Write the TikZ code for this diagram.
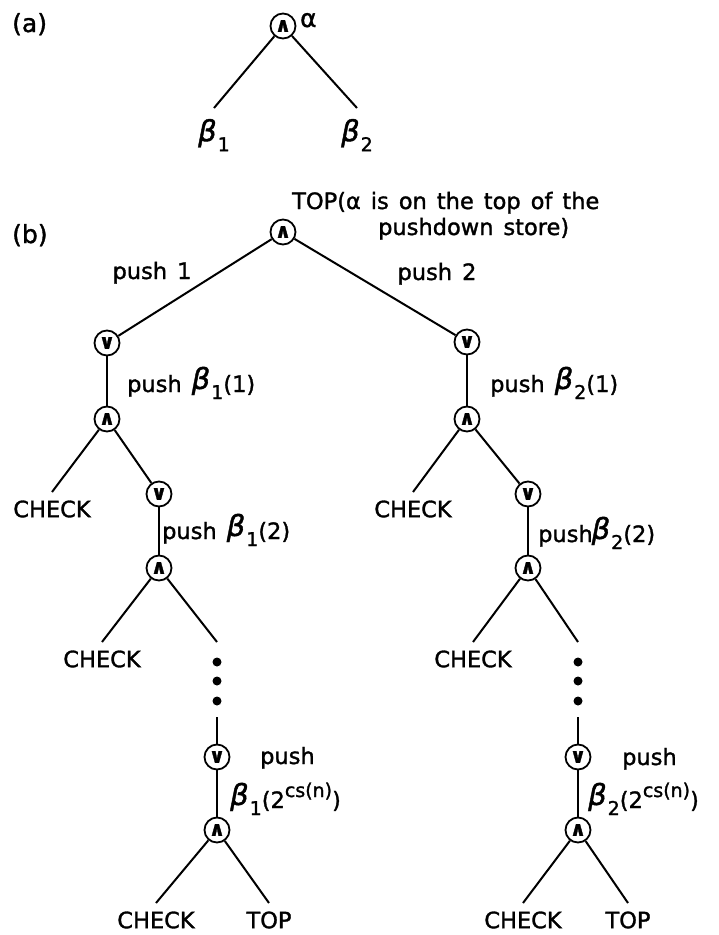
\documentclass[tikz,border=0pt]{standalone}
\usepackage{fontspec}
\setmainfont{DejaVu Sans}[ItalicFont={DejaVu Sans Oblique},WordSpace=1.4,FakeBold=1.4]
\newcommand{\bet}[1]{\raisebox{3pt}{\fontsize{29}{29}\selectfont\itshape β}\kern1pt\raisebox{-7pt}{\fontsize{19}{19}\selectfont #1}}
\newcommand{\supr}[1]{\raisebox{11pt}{\fontsize{19}{19}\selectfont #1}}
\newcommand{\andsym}{{\bfseries ∧}}
\newcommand{\orsym}{{\bfseries ∨}}
\begin{document}
\begin{tikzpicture}[x=1pt,y=-1pt,
  every node/.style={font=\fontsize{22.5}{26}\selectfont},
  gate/.style={circle,draw,line width=1.8pt,minimum size=25pt,inner sep=0pt,
    font=\fontsize{20}{20}\selectfont},
  edge/.style={line width=2pt},
  lbl/.style={anchor=base west,inner sep=0pt},
  tag/.style={anchor=base west,inner sep=0pt,font=\fontsize{25}{28}\selectfont},
  leaf/.style={anchor=north,inner sep=0pt,outer xsep=0pt,outer ysep=8.5pt},
  bleaf/.style={anchor=north,inner sep=0pt,outer xsep=0pt,outer ysep=11pt},
  dot/.style={circle,fill,inner sep=0pt,minimum size=9pt}]
\fill[white] (0,0) rectangle (719,935);
\useasboundingbox (0,0) rectangle (719,935);

% ---- part (a): a single AND node over beta_1 and beta_2
\node[tag] (la) at (12,32) {(a)};
\node[gate] (ra) at (283,26) {\andsym};
\node[lbl,font=\fontsize{25}{28}\selectfont] (alpha) at (300,27) {α};
\node[bleaf] (b1a) at (214,108) {\bet{1}};
\node[bleaf] (b2a) at (357,108) {\bet{2}};
\draw[edge] (ra) -- (b1a.north);
\draw[edge] (ra) -- (b2a.north);

% ---- part (b): the expanded tree
\node[tag] (lb) at (12,243) {(b)};
\node[gate] (R) at (283,232) {\andsym};
\node[lbl] (top1) at (292,209) {TOP(α is on the top of the};
\node[lbl] (top2) at (378,235) {pushdown store)};
\node[anchor=base,inner sep=0pt] (p1) at (152,279) {push 1};
\node[anchor=base,inner sep=0pt] (p2) at (437,280) {push 2};

% left branch
\node[gate] (L1v) at (107,343) {\orsym};
\node[gate] (L1a) at (107,419) {\andsym};
\node[gate] (L2v) at (159,494) {\orsym};
\node[gate] (L2a) at (159,568) {\andsym};
\node[gate] (L3v) at (217,757) {\orsym};
\node[gate] (L3a) at (217,830) {\andsym};
\node[lbl] (pl1) at (127,392) {push \bet{1}(1)};
\node[lbl] (pl2) at (162,539) {push \bet{1}(2)};
\node[lbl] (pl3) at (260,764) {push};
\node[lbl] (pl4) at (230,808) {\bet{1}(2\supr{cs(n)})};
\node[leaf] (ca1) at (52,492) {CHECK};
\node[leaf] (ca2) at (102,642) {CHECK};
\node[leaf] (ca3) at (156,903) {CHECK};
\node[leaf] (ta3) at (269,903) {TOP};
\coordinate (ea) at (217,642);
\coordinate (sa) at (217,717);
\node[dot] (da1) at (217,662) {};
\node[dot] (da2) at (217,681) {};
\node[dot] (da3) at (217,701) {};

% right branch
\node[gate] (R1v) at (467,342) {\orsym};
\node[gate] (R1a) at (467,419) {\andsym};
\node[gate] (R2v) at (528,494) {\orsym};
\node[gate] (R2a) at (528,568) {\andsym};
\node[gate] (R3v) at (578,757) {\orsym};
\node[gate] (R3a) at (578,830) {\andsym};
\node[lbl] (pr1) at (490,392) {push \bet{2}(1)};
\node[lbl] (pr2) at (538,542) {push\kern-1pt\bet{2}(2)};
\node[lbl] (pr3) at (622,765) {push};
\node[lbl] (pr4) at (588,808) {\bet{2}(2\supr{cs(n)})};
\node[leaf] (cb1) at (413,492) {CHECK};
\node[leaf] (cb2) at (473,642) {CHECK};
\node[leaf] (cb3) at (523,903) {CHECK};
\node[leaf] (tb3) at (628,903) {TOP};
\coordinate (eb) at (578,642);
\coordinate (sb) at (578,717);
\node[dot] (db1) at (578,662) {};
\node[dot] (db2) at (578,681) {};
\node[dot] (db3) at (578,701) {};

% connectors
\draw[edge] (R) -- (L1v);
\draw[edge] (R) -- (R1v);
\draw[edge] (L1v) -- (L1a);
\draw[edge] (L1a) -- (ca1.north);
\draw[edge] (L1a) -- (L2v);
\draw[edge] (L2v) -- (L2a);
\draw[edge] (L2a) -- (ca2.north);
\draw[edge] (L2a) -- (ea);
\draw[edge] (sa) -- (L3v);
\draw[edge] (L3v) -- (L3a);
\draw[edge] (L3a) -- (ca3.north);
\draw[edge] (L3a) -- (ta3.north);
\draw[edge] (R1v) -- (R1a);
\draw[edge] (R1a) -- (cb1.north);
\draw[edge] (R1a) -- (R2v);
\draw[edge] (R2v) -- (R2a);
\draw[edge] (R2a) -- (cb2.north);
\draw[edge] (R2a) -- (eb);
\draw[edge] (sb) -- (R3v);
\draw[edge] (R3v) -- (R3a);
\draw[edge] (R3a) -- (cb3.north);
\draw[edge] (R3a) -- (tb3.north);
\end{tikzpicture}
\end{document}
